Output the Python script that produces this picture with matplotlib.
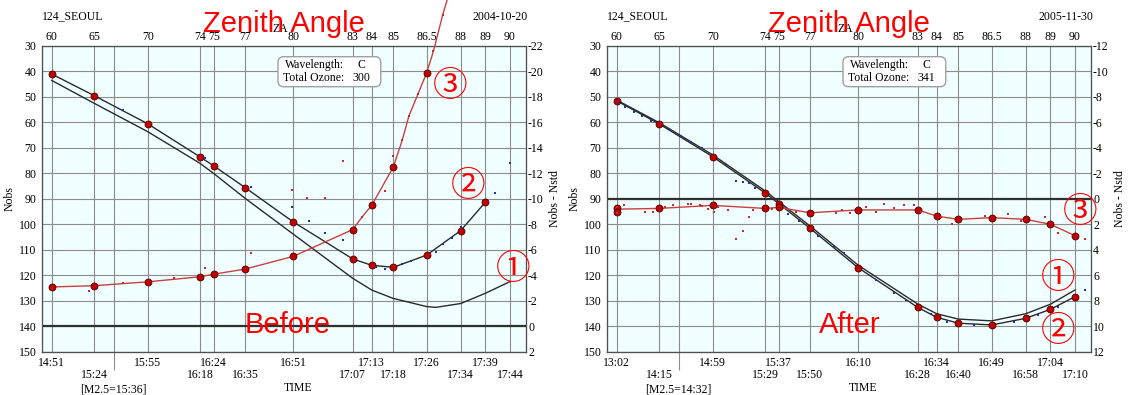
"""Dobson Umkehr observation charts at Seoul, before and after."""

import numpy as np
import matplotlib.pyplot as plt
import matplotlib.patches as mpatches

plt.rcParams['font.family'] = ['Liberation Serif', 'DejaVu Serif']
plt.rcParams['axes.unicode_minus'] = False


# Chart data
# ----------

# zenith angle grid and observation times
ZENITH = [60, 65, 70, 74, 75, 77, 80, 83, 84, 85, 86.5, 88, 89, 90]
TIME_BEFORE = ['14:51', '15:24', '15:55', '16:18', '16:24', '16:35', '16:51',
               '17:07', '17:13', '17:18', '17:26', '17:34', '17:39', '17:44']
TIME_AFTER = ['13:02', '14:15', '14:59', '15:29', '15:37', '15:50', '16:10',
              '16:28', '16:34', '16:40', '16:49', '16:58', '17:04', '17:10']
M25_ZENITH = 66.8
M25_BEFORE = '[M2.5=15:36]'
M25_AFTER = '[M2.5=14:32]'

# before: curve 1 (standard), curve 2 (observed), curve 3 (difference)
B_Z1 = [60, 65, 70, 74, 75, 77, 80, 83, 84, 85, 86.5, 86.9, 88, 89, 90]
B_N1 = [43.5, 52.5, 63.6, 76, 80, 89.7, 103.8, 121.1, 125.7, 129, 132.2,
        132.5, 131, 127, 122.4]
B_Z2 = [60, 65, 70, 74, 75, 77, 80, 83, 84, 85, 86.5, 88, 89]
B_N2 = [41, 49.5, 60.5, 73.5, 77, 85.5, 99, 113.5, 116, 116.8, 112, 102.4,
        91.3]
B_Z3 = [60, 65, 70, 74, 75, 77, 80, 83, 84, 85, 86.5]
B_D3 = [-3.1, -3.2, -3.5, -3.9, -4.1, -4.5, -5.5, -7.6, -9.5, -12.5, -19.9]
B_Z3_LINE = [60, 65, 70, 74, 75, 77, 80, 83, 83.5, 84, 85, 85.4, 85.7, 86.1,
             86.5, 86.8, 87.2, 87.4]
B_D3_LINE = [-3.1, -3.2, -3.5, -3.9, -4.1, -4.5, -5.5, -7.6, -8.6, -9.5,
             -12.5, -14.6, -16.5, -18.2, -19.9, -21.6, -24.4, -25.6]
B_ZB = [67.7, 74.4, 77.4, 79.9, 80.8, 81.6, 82.5, 84.2, 84.6, 85.4, 85.8,
        86.9, 87.2, 87.6, 88.0, 89.4, 90.0]
B_NB = [55.1, 74, 85.4, 93, 98.6, 103.5, 106.1, 116.5, 117.5, 115.5, 114.3,
        110.7, 107.8, 105.4, 100.9, 87.5, 76]
B_ZR = [64.4, 67.7, 72.0, 74.4, 77.4, 79.9, 80.7, 81.6, 82.5, 83.5, 84.6,
        85.0, 85.4, 85.7, 86.1, 86.8, 87.2]
B_DR = [-2.8, -3.4, -3.8, -4.6, -5.8, -10.7, -10.1, -10.1, -13.0, -8.6,
        -10.6, -13.4, -14.6, -16.5, -18.2, -21.6, -24.4]

# after
A_Z1 = ZENITH
A_N1 = [51.2, 60.1, 72.7, 86.8, 91.0, 100.6, 116.0, 131.2, 135.0, 137.1,
        137.8, 135.0, 131.3, 125.7]
A_Z2 = ZENITH
A_N2 = [51.5, 60.6, 73.4, 87.6, 91.8, 101.5, 117, 132.5, 136.4, 138.7, 139.4,
        136.8, 133.3, 128.3]
A_Z3 = [60, 60, 65, 70, 74, 75, 77, 80, 83, 84, 85, 86.5, 88, 89, 90]
A_D3 = [0.74, 1.0, 0.74, 0.48, 0.74, 0.66, 1.08, 0.86, 0.86, 1.34, 1.6, 1.46,
        1.6, 1.98, 2.88]
A_Z3_LINE = ZENITH
A_D3_LINE = [0.8, 0.74, 0.5, 0.74, 0.66, 1.08, 0.86, 0.86, 1.34, 1.6, 1.46,
             1.6, 1.98, 2.88]
A_ZB = [60.3, 61, 62, 63, 64, 66, 67, 68, 69, 71, 71.8, 72.3, 72.8, 73.2,
        75.6, 76.3, 77.5, 78.5, 79.1, 80.9, 81.8, 82.4, 83.7, 84.5, 85.7,
        87.5, 88.5, 89.3, 90.4]
A_NB = [52.3, 53.8, 55.7, 57.5, 59.3, 62.9, 65.2, 67.6, 70.1, 76.6, 82.8,
        83.5, 83.8, 85.8, 95.8, 98.6, 104.5, 108.9, 111.3, 121.8, 126.8,
        129.6, 135.1, 138.1, 139.4, 138.1, 135.5, 132.2, 125.7]
A_ZR = [60.0, 60.0, 60.9, 63.3, 64.3, 65.5, 66.3, 67.7, 68.0, 68.8, 69.0,
        69.6, 70.1, 70.4, 71.2, 71.8, 72.3, 72.8, 73.1, 74.5, 76.1, 78.6,
        79.0, 79.5, 80.4, 80.9, 81.3, 81.8, 82.3, 82.8, 83.2, 84.2, 84.7,
        86.2, 87.2, 87.8, 88.8, 89.3, 90.4]
A_DR = [0.6, 1.1, 0.48, 1.0, 1.0, 0.6, 0.48, 0.4, 0.4, 0.48, 0.54, 0.8, 1.0,
        0.66, 0.86, 3.16, 2.48, 1.44, 0.86, 0.8, 1.0, 1.08, 0.86, 1.12, 0.66,
        1.0, 0.4, 0.74, 0.48, 0.48, 1.0, 1.42, 1.98, 1.3, 1.14, 1.7, 1.38,
        2.7, 3.16]


# Zenith angle axis scale (pixel position along the 484 px wide axes)
# -----------------------

SCALE_ZEN = [50] + ZENITH + [95]
SCALE_PX = [-75.5, 9.7, 52.3, 105.7, 158, 171.7, 203, 251.3, 310.7, 329.7,
            351.3, 384.7, 418.7, 443.3, 468, 591.5]


def forward(z):
    return np.interp(z, SCALE_ZEN, SCALE_PX)


def inverse(p):
    return np.interp(p, SCALE_PX, SCALE_ZEN)


# Panel drawing
# -------------

GRID = '#8c8c8c'
SPINE = '#505050'
MARKER = dict(marker='o', ms=5, mfc='#c00000', mec='#500000', mew=0.6)


def draw_panel(fig, left, date, ozone, times, m25, c1, c2, c3, c3line,
               blue, red, dtop, dbot, tag, tagx, circles):
    """Draw one observation chart with its twin axes."""

    ax = fig.add_axes([left, 0.1089, 0.4283, 0.7747], facecolor='#f0ffff')
    ax.set_xscale('function', functions=(forward, inverse))
    ax.set_xlim(inverse(0), inverse(484))
    ax.set_ylim(150, 30)
    ax.set_yticks(range(30, 151, 10))

    # bottom time labels in two staggered rows
    labels = [t if i % 2 == 0 else '\n' + t for i, t in enumerate(times)]
    ax.set_xticks(ZENITH, labels=labels)
    ax.set_xticks([M25_ZENITH], labels=[m25], minor=True)
    for lab in ax.get_xticklabels():
        lab.set_linespacing(1.0)
    ax.tick_params(axis='x', which='major', length=0, pad=3.5, labelsize=8.5)
    ax.tick_params(axis='x', which='minor', length=13, width=0.8, color=GRID,
                   pad=9.5, labelsize=8.5)
    ax.tick_params(axis='y', length=0, pad=4, labelsize=8.5)
    ax.grid(True, which='major', color=GRID, lw=0.8)
    ax.xaxis.grid(True, which='minor', color=GRID, lw=0.8)
    ax.set_axisbelow(True)
    ax.set_xlabel('TIME', fontsize=8.5)
    ax.xaxis.set_label_coords(0.529, -0.098)
    ax.set_ylabel('Nobs', fontsize=8.5, labelpad=2)

    # top zenith angle labels
    axt = ax.twiny()
    axt.set_xscale('function', functions=(forward, inverse))
    axt.set_xlim(ax.get_xlim())
    axt.set_xticks(ZENITH, labels=['{:g}'.format(z) for z in ZENITH])
    axt.tick_params(axis='x', length=0, pad=2.5, labelsize=8.5)

    # right difference axis
    axr = ax.twinx()
    axr.set_ylim(dbot, dtop)
    axr.set_yticks(np.arange(dtop, dbot + 1, 2))
    axr.tick_params(axis='y', length=0, pad=1.5, labelsize=8.5)
    axr.set_ylabel('Nobs - Nstd', fontsize=8.5, labelpad=4)
    axr.axhline(0, color='#303030', lw=1.6, zorder=1)

    for a in (ax, axt, axr):
        for s in a.spines.values():
            s.set_color(SPINE)

    # curves
    ax.plot(*c1, color='#2a2a2a', lw=1, zorder=3)
    ax.plot(*c2, color='#2a2a2a', lw=1, zorder=3, **MARKER)
    ax.plot(*blue, ls='none', marker='s', ms=2, mew=0, color='#2030b0',
            zorder=4)
    axr.plot(*c3line, color='#c84040', lw=1, clip_on=False, zorder=3)
    axr.plot(*c3, ls='none', clip_on=False, zorder=4, **MARKER)
    axr.plot(*red, ls='none', marker='s', ms=2, mew=0, color='#d02828',
             clip_on=False, zorder=4)

    # header texts
    tr = ax.transAxes
    axr.text(0, 1.096, '124_SEOUL', transform=tr, ha='left', va='center',
             fontsize=8.5)
    axr.text(1.004, 1.096, date, transform=tr, ha='right', va='center',
             fontsize=8.5)
    axr.text(0.493, 1.054, 'ZA', transform=tr, ha='center', va='center',
             fontsize=8.5, clip_on=False)
    axr.text(0.5, 1.0467, 'Zenith Angle', transform=tr, ha='center',
             va='baseline', fontsize=21, color='red', family='Liberation Sans')
    axr.text(tagx, 0.062, tag, transform=tr, ha='center', va='baseline',
             fontsize=21, color='red', family='Liberation Sans')

    # info box
    box = mpatches.FancyBboxPatch(
        (0.4876, 0.867), 0.2124, 0.098, transform=tr,
        boxstyle='round,pad=0,rounding_size=0.012', mutation_aspect=484/306,
        fc='white', ec='#a0a0a0', lw=1, zorder=5)
    axr.add_patch(box)
    axr.text(0.625, 0.938, 'Wavelength:', transform=tr, ha='right',
             va='center', fontsize=8.5, zorder=6)
    axr.text(0.625, 0.894, 'Total Ozone:', transform=tr, ha='right',
             va='center', fontsize=8.5, zorder=6)
    axr.text(0.66, 0.938, 'C', transform=tr, ha='center', va='center',
             fontsize=8.5, zorder=6)
    axr.text(0.66, 0.894, str(ozone), transform=tr, ha='center', va='center',
             fontsize=8.5, zorder=6)

    # circled curve numbers
    for char, x, y in circles:
        axr.text(x, y, char, transform=tr, ha='center', va='center',
                 fontsize=25, color='red', zorder=6,
                 family=['Noto Sans CJK JP', 'DejaVu Sans'])


def main():
    """Assemble both panels and save."""

    fig = plt.figure(figsize=(11.3, 3.95), dpi=100)

    draw_panel(fig, 42/1130, '2004-10-20', 300, TIME_BEFORE, M25_BEFORE,
               (B_Z1, B_N1), (B_Z2, B_N2), (B_Z3, B_D3),
               (B_Z3_LINE, B_D3_LINE), (B_ZB, B_NB), (B_ZR, B_DR),
               -22, 2, 'Before', 0.507,
               [('③', 0.843, 0.869), ('②', 0.881, 0.5415),
                ('①', 0.974, 0.271)])
    draw_panel(fig, 607/1130, '2005-11-30', 341, TIME_AFTER, M25_AFTER,
               (A_Z1, A_N1), (A_Z2, A_N2), (A_Z3, A_D3),
               (A_Z3_LINE, A_D3_LINE), (A_ZB, A_NB), (A_ZR, A_DR),
               -12, 12, 'After', 0.502,
               [('③', 0.977, 0.455), ('①', 0.932, 0.241),
                ('②', 0.932, 0.066)])

    fig.savefig('out.png', dpi=100)


if __name__ == '__main__':
    main()
